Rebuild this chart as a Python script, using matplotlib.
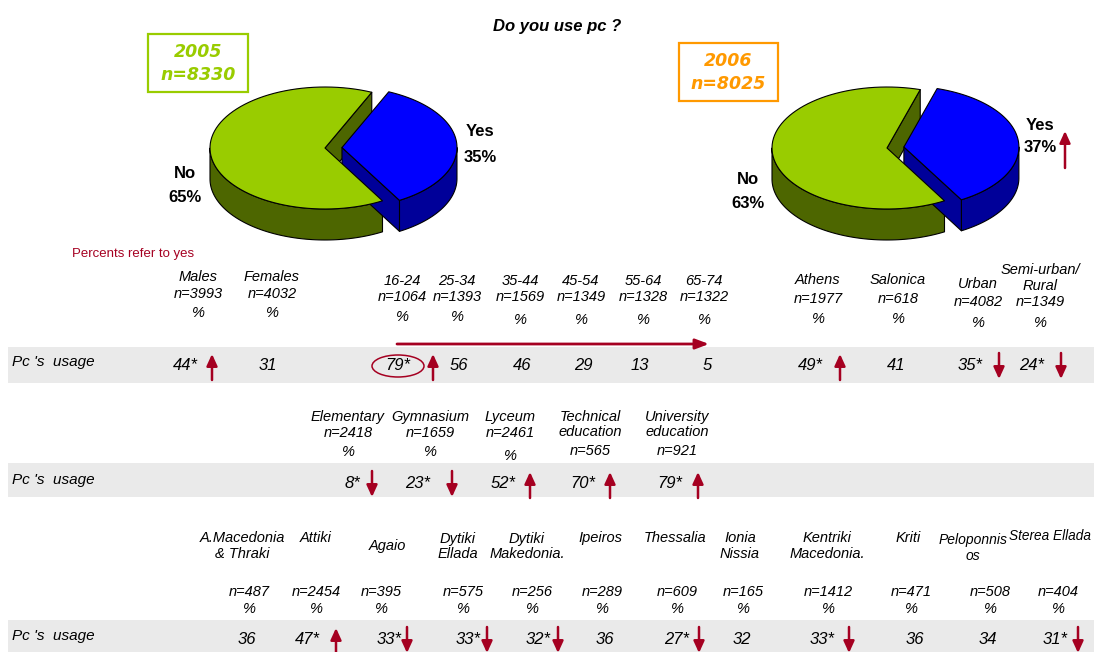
import numpy as np
import matplotlib.pyplot as plt
from matplotlib.patches import Polygon, Rectangle, Ellipse

plt.rcParams['font.family'] = ['Liberation Sans', 'DejaVu Sans']

# ---- data ----
pie_years = ['2005', '2006']
pie_n = [8330, 8025]
pie_yes = [35, 37]
pie_no = [65, 63]
pie_yes_trend = [0, 1]

row_title = "Pc 's  usage"

demo_labels = ['Males', 'Females', '16-24', '25-34', '35-44', '45-54', '55-64', '65-74',
               'Athens', 'Salonica', 'Urban', 'Semi-urban/\nRural']
demo_n = [3993, 4032, 1064, 1393, 1569, 1349, 1328, 1322, 1977, 618, 4082, 1349]
demo_values = ['44*', '31', '79*', '56', '46', '29', '13', '5', '49*', '41', '35*', '24*']
demo_trend = [1, 0, 1, 0, 0, 0, 0, 0, 1, 0, -1, -1]

edu_labels = ['Elementary', 'Gymnasium', 'Lyceum', 'Technical\neducation', 'University\neducation']
edu_n = [2418, 1659, 2461, 565, 921]
edu_values = ['8*', '23*', '52*', '70*', '79*']
edu_trend = [-1, -1, 1, 1, 1]
edu_pct = [True, True, True, False, False]

region_labels = ['A.Macedonia\n& Thraki', 'Attiki', 'Agaio', 'Dytiki\nEllada', 'Dytiki\nMakedonia.',
                 'Ipeiros', 'Thessalia', 'Ionia\nNissia', 'Kentriki\nMacedonia.', 'Kriti',
                 'Peloponnis\nos', 'Sterea Ellada']
region_n = [487, 2454, 395, 575, 256, 289, 609, 165, 1412, 471, 508, 404]
region_values = ['36', '47*', '33*', '33*', '32*', '36', '27*', '32', '33*', '36', '34', '31*']
region_trend = [0, 1, -1, -1, -1, 0, -1, 0, -1, 0, 0, -1]

# ---- layout (pixels) ----
RED = '#A50021'
BAND = '#EAEAEA'
A, B, DEPTH, EXPLODE = 115, 61, 31, 17
HDR = 10.5

fig = plt.figure(figsize=(10.94, 6.52), dpi=100)
ax = fig.add_axes([0, 0, 1, 1])
ax.set_xlim(0, 1094)
ax.set_ylim(652, 0)
ax.axis('off')


def arc(cx, cy, t0, t1, dz=0, n=80):
    t = np.radians(np.linspace(t0, t1, n))
    return np.column_stack([cx + A * np.cos(t), cy - B * np.sin(t) + dz])


def draw_pie(cx, cy, shares, start, tops, sides):
    bounds = start + np.cumsum([0] + [s * 3.6 for s in shares])
    parts = []
    for i in range(len(shares)):
        t0, t1 = bounds[i], bounds[i + 1]
        mid = np.radians((t0 + t1) / 2)
        e = EXPLODE if i == 0 else 0
        parts.append((t0, t1, cx + e * np.cos(mid), cy - e * np.sin(mid) * B / A))

    def draw_sides(t0, t1, ox, oy, col):
        for k in (-1, 0, 1):
            lo, hi = max(t0, 180 + 360 * k), min(t1, 360 + 360 * k)
            if lo < hi:
                pts = np.vstack([arc(ox, oy, lo, hi), arc(ox, oy, hi, lo, DEPTH)])
                ax.add_patch(Polygon(pts, fc=col, ec='black', lw=0.8, joinstyle='round'))
        for t, normal in ((t0, t0 - 90), (t1, t1 + 90)):
            if np.sin(np.radians(normal)) < 0:
                r = arc(ox, oy, t, t, n=1)[0]
                pts = [(ox, oy), r, (r[0], r[1] + DEPTH), (ox, oy + DEPTH)]
                ax.add_patch(Polygon(pts, fc=col, ec='black', lw=0.8, joinstyle='round'))

    order = [1, 0]
    for i in order:
        draw_sides(*parts[i], sides[i])
    for i in order:
        t0, t1, ox, oy = parts[i]
        pts = np.vstack([[(ox, oy)], arc(ox, oy, t0, t1)])
        ax.add_patch(Polygon(pts, fc=tops[i], ec='black', lw=0.8, joinstyle='round'))


def arrow(x, y_tail, y_tip, lw=1.8):
    ax.annotate('', xy=(x, y_tip), xytext=(x, y_tail), annotation_clip=False,
                arrowprops=dict(arrowstyle='-|>,head_length=0.7,head_width=0.32',
                                color=RED, lw=lw, shrinkA=0, shrinkB=0))


# title
ax.text(557, 26, 'Do you use pc ?', ha='center', va='center', fontsize=12,
        fontweight='bold', fontstyle='italic')

# pies
pie_cx = [325, 887]
pie_cy = [148, 148]
box_xy = [(148, 34, 100, 58), (679, 43, 99, 58)]
box_col = ['#99CC00', '#FF9900']
yes_pos = [(480, 132, 157), (1040, 125, 148)]
no_pos = [(185, 173, 197), (748, 180, 203)]
for k in range(2):
    draw_pie(pie_cx[k], pie_cy[k], [pie_yes[k], pie_no[k]], -60,
             tops=['#0000FF', '#99CC00'], sides=['#000099', '#4D6600'])
    bx, by, bw, bh = box_xy[k]
    ax.add_patch(Rectangle((bx, by), bw, bh, fill=False, ec=box_col[k], lw=1.6))
    ax.text(bx + bw / 2, by + bh * 0.31, pie_years[k], ha='center', va='center',
            fontsize=12.5, family='DejaVu Sans', fontweight='bold', fontstyle='italic',
            color=box_col[k])
    ax.text(bx + bw / 2, by + bh * 0.71, f'n={pie_n[k]}', ha='center', va='center',
            fontsize=12.5, family='DejaVu Sans', fontweight='bold', fontstyle='italic',
            color=box_col[k])
    x, y1, y2 = yes_pos[k]
    ax.text(x, y1, 'Yes', ha='center', va='center', fontsize=12, fontweight='bold')
    ax.text(x, y2, f'{pie_yes[k]}%', ha='center', va='center', fontsize=12, fontweight='bold')
    x, y1, y2 = no_pos[k]
    ax.text(x, y1, 'No', ha='center', va='center', fontsize=12, fontweight='bold')
    ax.text(x, y2, f'{pie_no[k]}%', ha='center', va='center', fontsize=12, fontweight='bold')
    if pie_yes_trend[k] > 0:
        arrow(1065, 168, 131)

ax.text(72, 254, 'Percents refer to yes', ha='left', va='center', fontsize=9.5, color=RED)


def draw_row(labels, ns, values, trends, name_x, name_y, n_x, n_y, pct_y, val_x, arr_x,
             band, val_y, pct_show=None, name_ha=None, name_fs=None):
    ax.add_patch(Rectangle((8, band[0]), 1094 - 8, band[1] - band[0], fc=BAND, ec='none', zorder=0))
    ax.text(12, val_y - 2, row_title, ha='left', va='center', fontsize=11, fontstyle='italic')
    for i, lab in enumerate(labels):
        ha = name_ha[i] if name_ha else 'center'
        fs = name_fs[i] if name_fs else HDR
        for j, line in enumerate(lab.split('\n')):
            ax.text(name_x[i], name_y[i] + 15.5 * j, line, ha=ha, va='center',
                    fontsize=fs, fontstyle='italic')
        ax.text(n_x[i], n_y[i], f'n={ns[i]}', ha='center', va='center', fontsize=HDR, fontstyle='italic')
        if pct_show is None or pct_show[i]:
            ax.text(n_x[i], pct_y[i], '%', ha='center', va='center', fontsize=HDR, fontstyle='italic')
        ax.text(val_x[i], val_y + 1, values[i], ha='center', va='center', fontsize=12, fontstyle='italic')
        if trends[i] > 0:
            arrow(arr_x[i], val_y + 16, val_y - 10)
        elif trends[i] < 0:
            arrow(arr_x[i], val_y - 11, val_y + 15)


# row 1: gender / age / area
r1_x = [198, 272, 402, 457, 520, 581, 643, 704, 818, 898, 978, 1040]
draw_row(demo_labels, demo_n, demo_values, demo_trend,
         name_x=r1_x,
         name_y=[277, 277, 281, 281, 281, 281, 281, 281, 280, 280, 284, 270],
         n_x=r1_x,
         n_y=[294, 294, 297, 297, 297, 297, 297, 297, 299, 299, 302, 302],
         pct_y=[313, 313, 317, 317, 320, 320, 320, 320, 319, 319, 323, 323],
         val_x=[185, 268, 398, 459, 522, 583, 640, 707, 810, 896, 970, 1032],
         arr_x=[212, 0, 433, 0, 0, 0, 0, 0, 840, 0, 999, 1061],
         band=(347, 383), val_y=364)
ax.add_patch(Ellipse((398, 366), 52, 22, fill=False, ec=RED, lw=1.1))
ax.annotate('', xy=(709, 344), xytext=(397, 344),
            arrowprops=dict(arrowstyle='-|>,head_length=0.8,head_width=0.3',
                            color=RED, lw=2, shrinkA=0, shrinkB=0))

# row 2: education
r2_x = [348, 430, 510, 590, 677]
draw_row(edu_labels, edu_n, edu_values, edu_trend,
         name_x=r2_x, name_y=[417] * 5,
         n_x=r2_x, n_y=[433, 433, 433, 451, 451],
         pct_y=[452, 452, 456, 0, 0],
         val_x=[352, 418, 503, 583, 670],
         arr_x=[372, 452, 530, 610, 698],
         band=(463, 497), val_y=482, pct_show=edu_pct)

# row 3: regions
draw_row(region_labels, region_n, region_values, region_trend,
         name_x=[242, 316, 387, 458, 527, 600, 675, 740, 827, 908, 973, 1091],
         name_y=[538, 538, 546, 539, 539, 538, 538, 538, 538, 538, 540, 536],
         n_x=[249, 316, 381, 463, 532, 602, 677, 743, 828, 911, 990, 1058],
         n_y=[592] * 12, pct_y=[609] * 12,
         val_x=[247, 307, 389, 468, 538, 605, 677, 742, 822, 915, 988, 1055],
         arr_x=[0, 336, 407, 487, 558, 0, 699, 0, 849, 0, 0, 1078],
         band=(620, 652), val_y=638,
         name_ha=['center'] * 11 + ['right'],
         name_fs=[HDR] * 10 + [10, 9.8])

fig.savefig('out.png', dpi=100)
